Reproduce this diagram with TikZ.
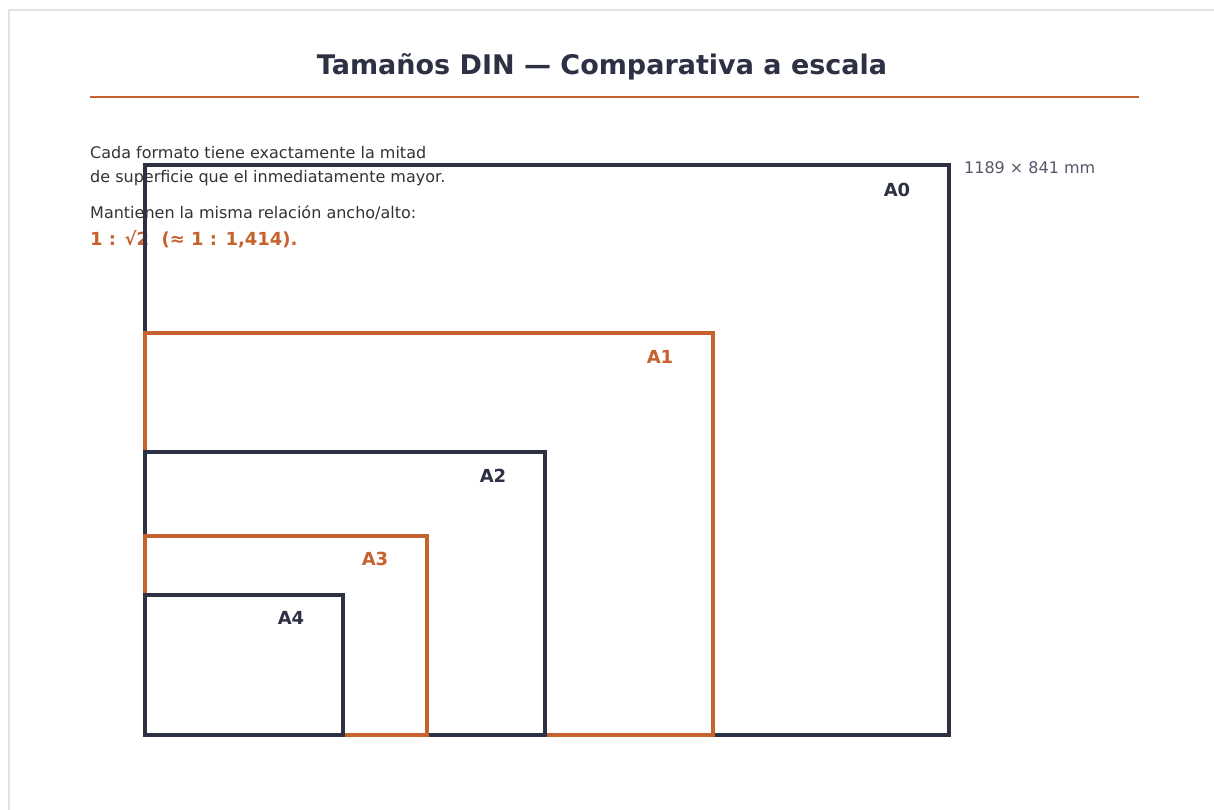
\documentclass[tikz,border=0pt]{standalone}
\usepackage{fontspec}
\setmainfont{DejaVu Sans}
\definecolor{navy}{HTML}{2E3144}
\definecolor{rust}{HTML}{C5622E}
\definecolor{framegray}{HTML}{E2E2DE}
\definecolor{notegray}{HTML}{55586A}
\definecolor{bodytxt}{HTML}{333333}
\tikzset{
  sheetdark/.style={draw=navy, line width=3.2pt},
  sheetrust/.style={draw=rust, line width=3.2pt},
  lbldark/.style={font=\bfseries\fontsize{18}{20}\selectfont, text=navy, anchor=center},
  lblrust/.style={font=\bfseries\fontsize{18}{20}\selectfont, text=rust, anchor=center},
  bodytext/.style={font=\fontsize{16}{18}\selectfont, text=bodytxt, anchor=base west, inner sep=0pt},
}
\begin{document}
\begin{tikzpicture}[x=1pt,y=-1pt]
\useasboundingbox (0,0) rectangle (1214,810);
\fill[white] (0,0) rectangle (1214,810);
\draw[framegray, line width=1.5pt] (9,810) -- (9,10) -- (1214,10);
% title
\node[font=\bfseries\fontsize{27}{31}\selectfont, text=navy, anchor=base, inner sep=0pt] (title) at (602,75) {Tamaños DIN — Comparativa a escala};
\coordinate (ruleL) at (90,97);
\coordinate (ruleR) at (1139,97);
\draw[rust, line width=2.8pt] (ruleL) -- (ruleR);
% texts
\node[bodytext] (t1) at (90,159) {Cada formato tiene exactamente la mitad};
\node[bodytext] (t2) at (90,183) {de superficie que el inmediatamente mayor.};
\node[bodytext] (t3) at (90,219) {Mantienen la misma relación ancho/alto:};
\node[font=\bfseries\fontsize{18}{20}\selectfont, text=rust, anchor=base west, inner sep=0pt] (t4) at (90,245) {1 : √2 \ (≈ 1 : 1,414).};
% sheets
\draw[sheetdark] (145,735) rectangle (949,165);
\draw[sheetrust] (145,735) rectangle (713,333);
\draw[sheetdark] (145,735) rectangle (545,452);
\draw[sheetrust] (145,735) rectangle (427,536);
\draw[sheetdark] (145,735) rectangle (343,595);
\node[lbldark] (a0) at (897,190) {A0};
\node[lblrust] (a1) at (660,357) {A1};
\node[lbldark] (a2) at (493,476) {A2};
\node[lblrust] (a3) at (375,559) {A3};
\node[lbldark] (a4) at (291,618) {A4};
\node[font=\fontsize{16}{18}\selectfont, text=notegray, anchor=base west, inner sep=0pt] (dim) at (964,174) {1189 × 841 mm};
\end{tikzpicture}
\end{document}
